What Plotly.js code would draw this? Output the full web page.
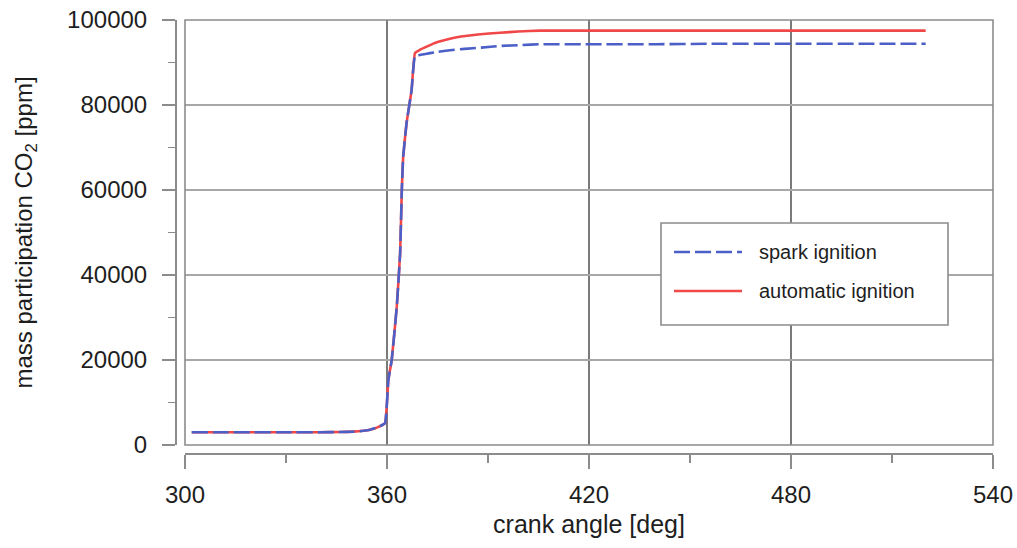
<!DOCTYPE html>
<html>
<head>
<meta charset="utf-8">
<script src="https://cdn.plot.ly/plotly-3.0.1.min.js"></script>
<style>html,body{margin:0;padding:0;background:#fff;}#chart{width:1017px;height:548px;}</style>
</head>
<body>
<div id="chart"></div>
<script>
// crank angle [deg] and CO2 mass participation [ppm]
var sparkAngle = [302, 310, 320, 330, 340, 346, 350, 353, 355, 357, 359.4, 360.4, 361.4, 362.9, 363.9, 364.4, 364.8, 365.8, 367.3, 368.3, 370, 372.8, 375, 378.7, 383, 388, 393.6, 400, 405.4, 420, 440, 455, 480, 500, 520];
var sparkCO2   = [3000, 3000, 3000, 3000, 3000, 3050, 3150, 3350, 3600, 4100, 5100, 15300, 20000, 32500, 45100, 60000, 67800, 75700, 83500, 91500, 91800, 92200, 92500, 92900, 93200, 93500, 93900, 94100, 94300, 94300, 94300, 94400, 94400, 94400, 94400];

var autoAngle = [302, 310, 320, 330, 340, 346, 350, 353, 355, 357, 359.4, 360.4, 361.4, 362.9, 363.9, 364.4, 364.8, 365.8, 367.3, 368.3, 370, 372.8, 375, 378.7, 382, 387, 393.6, 399, 405.4, 420, 460, 520];
var autoCO2   = [3000, 3000, 3000, 3000, 3000, 3050, 3150, 3350, 3600, 4100, 5100, 15300, 20000, 32500, 45100, 60000, 67800, 75700, 83500, 92200, 93100, 94100, 94800, 95600, 96100, 96600, 97000, 97300, 97500, 97500, 97500, 97500];

var seriesNames = ['spark ignition', 'automatic ignition'];
var xTitle = 'crank angle [deg]';
var yTitle = 'mass participation CO<sub>2</sub> [ppm]';

var BLUE = '#4b5fc6', RED = '#f04848';

var traces = [
  {x: autoAngle, y: autoCO2, name: seriesNames[1], mode: 'lines', line: {color: RED, width: 2.6, shape: 'spline', smoothing: 0.3}},
  {x: sparkAngle, y: sparkCO2, name: seriesNames[0], mode: 'lines', line: {color: BLUE, width: 2.6, dash: '16px,5px', shape: 'spline', smoothing: 0.3}}
];

// pixel helpers for paper coordinates (paper spans x 175..993, y 20..453)
var L = 175, R = 993, T = 20, B = 453;
function px(x){ return (x - L) / (R - L); }
function py(y){ return (B - y) / (B - T); }

var FONT = 'Liberation Sans, Arial, sans-serif';
var GRAY = '#8c8c8c';

var layout = {
  width: 1017, height: 548,
  margin: {l: L, r: 1017 - R, t: T, b: 548 - B, pad: 0},
  paper_bgcolor: '#fff', plot_bgcolor: '#fff',
  showlegend: false,
  font: {family: FONT, color: '#1e1e1e'},
  xaxis: {
    domain: [px(185), 1], anchor: 'free', position: 0,
    range: [300, 540], dtick: 60, tick0: 300,
    showgrid: true, gridcolor: '#7a7a7a', gridwidth: 1.4, zeroline: false,
    showline: true, linecolor: GRAY, linewidth: 1.5,
    ticks: 'outside', ticklen: 14, tickwidth: 1.5, tickcolor: GRAY,
    minor: {dtick: 30, ticks: 'outside', ticklen: 8, tickwidth: 1.2, tickcolor: GRAY, showgrid: false},
    ticklabelstandoff: 6,
    tickfont: {size: 24, family: FONT, color: '#1e1e1e'},
    title: {text: xTitle, font: {size: 25, family: FONT, color: '#1e1e1e'}, standoff: 8}
  },
  yaxis: {
    domain: [py(445), 1], anchor: 'free', position: 0,
    range: [0, 100000], dtick: 20000, tick0: 0,
    showgrid: true, gridcolor: '#a8a8a8', gridwidth: 1.4, zeroline: false,
    showline: true, linecolor: GRAY, linewidth: 1.5,
    ticks: 'outside', ticklen: 13, tickwidth: 1.5, tickcolor: GRAY,
    minor: {dtick: 10000, ticks: 'outside', ticklen: 7, tickwidth: 1.2, tickcolor: GRAY, showgrid: false},
    ticklabelstandoff: 10,
    tickformat: 'd',
    tickfont: {size: 24, family: FONT, color: '#1e1e1e'},
    title: {text: yTitle, font: {size: 24, family: FONT, color: '#1e1e1e'}, standoff: 26}
  },
  shapes: [
    // plot frame
    {type: 'rect', xref: 'x domain', yref: 'y domain', x0: 0, x1: 1, y0: 0, y1: 1,
     line: {color: GRAY, width: 1.6}, layer: 'above'},
    // legend box
    {type: 'rect', xref: 'paper', yref: 'paper', x0: px(661), x1: px(948), y0: py(325), y1: py(223),
     line: {color: GRAY, width: 1.6}, fillcolor: '#fff', layer: 'above'},
    {type: 'line', xref: 'paper', yref: 'paper', x0: px(674), x1: px(742), y0: py(252), y1: py(252),
     line: {color: BLUE, width: 2.6, dash: '16px,5px'}, layer: 'above'},
    {type: 'line', xref: 'paper', yref: 'paper', x0: px(674), x1: px(742), y0: py(291), y1: py(291),
     line: {color: RED, width: 2.6}, layer: 'above'}
  ],
  annotations: [
    {xref: 'paper', yref: 'paper', x: px(757), y: py(252), xanchor: 'left', yanchor: 'middle',
     text: seriesNames[0], showarrow: false, font: {size: 20, family: FONT, color: '#1e1e1e'}},
    {xref: 'paper', yref: 'paper', x: px(757), y: py(291), xanchor: 'left', yanchor: 'middle',
     text: seriesNames[1], showarrow: false, font: {size: 20, family: FONT, color: '#1e1e1e'}}
  ]
};

Plotly.newPlot('chart', traces, layout, {displayModeBar: false, staticPlot: true});
</script>
</body>
</html>
